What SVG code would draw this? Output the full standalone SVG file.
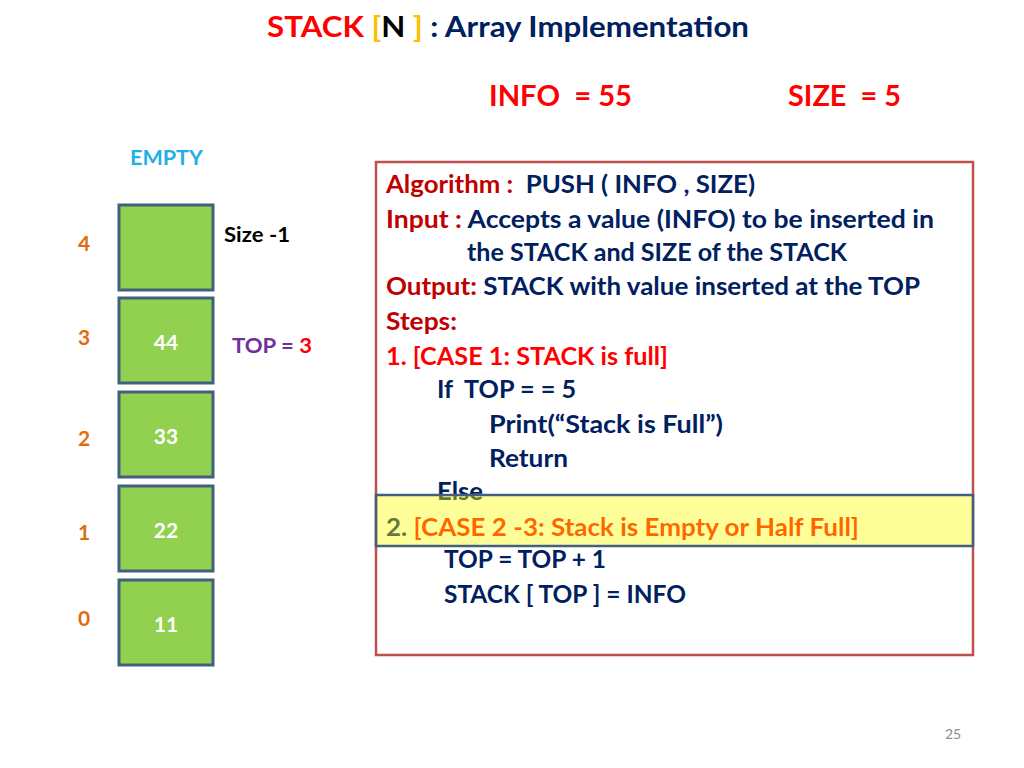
<svg xmlns="http://www.w3.org/2000/svg" width="1024" height="768" viewBox="0 0 1024 768" xml:space="preserve">
<style>
text{font-family:Lato,"Open Sans","Liberation Sans",sans-serif;font-weight:700;white-space:pre;}
.cell{fill:#92d050;stroke:#41607f;stroke-width:3;}
.val{fill:#ffffff;font-size:21px;text-anchor:middle;}
.idx{fill:#e36c0a;font-size:21px;}
.alg{font-size:25.5px;fill:#002060;}
.dr{fill:#c00000;}
.rd{fill:#ff0000;}
</style>
<rect width="1024" height="768" fill="#ffffff"/>
<g id="title">
<text x="267" y="37" font-size="29" textLength="482" lengthAdjust="spacingAndGlyphs"><tspan fill="#ff0000">STACK </tspan><tspan fill="#ffc000">[</tspan><tspan fill="#000000">N </tspan><tspan fill="#ffc000">]</tspan><tspan fill="#002060"> : Array Implementation</tspan></text>
</g>
<g id="info">
<text x="489" y="106" font-size="29" fill="#ff0000" textLength="143" lengthAdjust="spacingAndGlyphs">INFO  = 55</text>
</g>
<g id="size">
<text x="788" y="106" font-size="29" fill="#ff0000" textLength="113" lengthAdjust="spacingAndGlyphs">SIZE  = 5</text>
</g>
<g id="empty-label">
<text x="130" y="165" font-size="21" fill="#1fb0e8" textLength="73" lengthAdjust="spacingAndGlyphs">EMPTY</text>
</g>
<g id="cell4">
<rect class="cell" x="119" y="205" width="94" height="85"/>
<text class="idx" x="78" y="251">4</text>
</g>
<g id="cell3">
<rect class="cell" x="119" y="298" width="94" height="85"/>
<text class="val" x="166" y="350">44</text>
<text class="idx" x="78" y="345">3</text>
</g>
<g id="cell2">
<rect class="cell" x="119" y="392" width="94" height="85"/>
<text class="val" x="166" y="444">33</text>
<text class="idx" x="78" y="446">2</text>
</g>
<g id="cell1">
<rect class="cell" x="119" y="486" width="94" height="85"/>
<text class="val" x="166" y="538">22</text>
<text class="idx" x="78" y="540">1</text>
</g>
<g id="cell0">
<rect class="cell" x="119" y="580" width="94" height="85"/>
<text class="val" x="166" y="632">11</text>
<text class="idx" x="78" y="626">0</text>
</g>
<g id="size-minus-1">
<text x="224" y="242" font-size="21" fill="#000000" textLength="66" lengthAdjust="spacingAndGlyphs">Size -1</text>
</g>
<g id="top-label">
<text x="232" y="353" font-size="21" fill="#7030a0" textLength="80" lengthAdjust="spacingAndGlyphs">TOP = <tspan fill="#ff0000">3</tspan></text>
</g>
<g id="algorithm">
<rect x="376" y="162" width="597" height="493" fill="#ffffff" stroke="#c0504d" stroke-width="2.5"/>
<text class="alg" x="386" y="193" textLength="369" lengthAdjust="spacingAndGlyphs"><tspan class="dr">Algorithm :  </tspan>PUSH ( INFO , SIZE)</text>
<text class="alg" x="386" y="228" textLength="548" lengthAdjust="spacingAndGlyphs"><tspan class="dr">Input : </tspan>Accepts a value (INFO) to be inserted in</text>
<text class="alg" x="467" y="261" textLength="380" lengthAdjust="spacingAndGlyphs">the STACK and SIZE of the STACK</text>
<text class="alg" x="386" y="295" textLength="534" lengthAdjust="spacingAndGlyphs"><tspan class="dr">Output: </tspan>STACK with value inserted at the TOP</text>
<text class="alg dr" x="386" y="330" textLength="71" lengthAdjust="spacingAndGlyphs">Steps:</text>
<text class="alg rd" x="386" y="365" textLength="282" lengthAdjust="spacingAndGlyphs">1. [CASE 1: STACK is full]</text>
<text class="alg" x="437" y="398" textLength="139" lengthAdjust="spacingAndGlyphs">If  TOP = = 5</text>
<text class="alg" x="489" y="433" textLength="234" lengthAdjust="spacingAndGlyphs">Print(“Stack is Full”)</text>
<text class="alg" x="489" y="467" textLength="79" lengthAdjust="spacingAndGlyphs">Return</text>
<text class="alg" x="437" y="500" textLength="46" lengthAdjust="spacingAndGlyphs">Else</text>
<text class="alg" x="386" y="536" textLength="473" lengthAdjust="spacingAndGlyphs">2. <tspan class="rd">[CASE 2 -3: Stack is Empty or Half Full]</tspan></text>
<text class="alg" x="444" y="568" textLength="162" lengthAdjust="spacingAndGlyphs">TOP = TOP + 1</text>
<text class="alg" x="444" y="603" textLength="242" lengthAdjust="spacingAndGlyphs">STACK [ TOP ] = INFO</text>
</g>
<g id="highlight">
<rect x="376" y="495" width="597" height="51" fill="#ffff00" fill-opacity="0.4"/>
<rect x="376" y="495" width="597" height="51" fill="none" stroke="#41607f" stroke-width="2.5"/>
</g>
<g id="page-number">
<text x="945" y="739" font-size="14" fill="#8c8c8c" style="font-weight:400">25</text>
</g>
</svg>
